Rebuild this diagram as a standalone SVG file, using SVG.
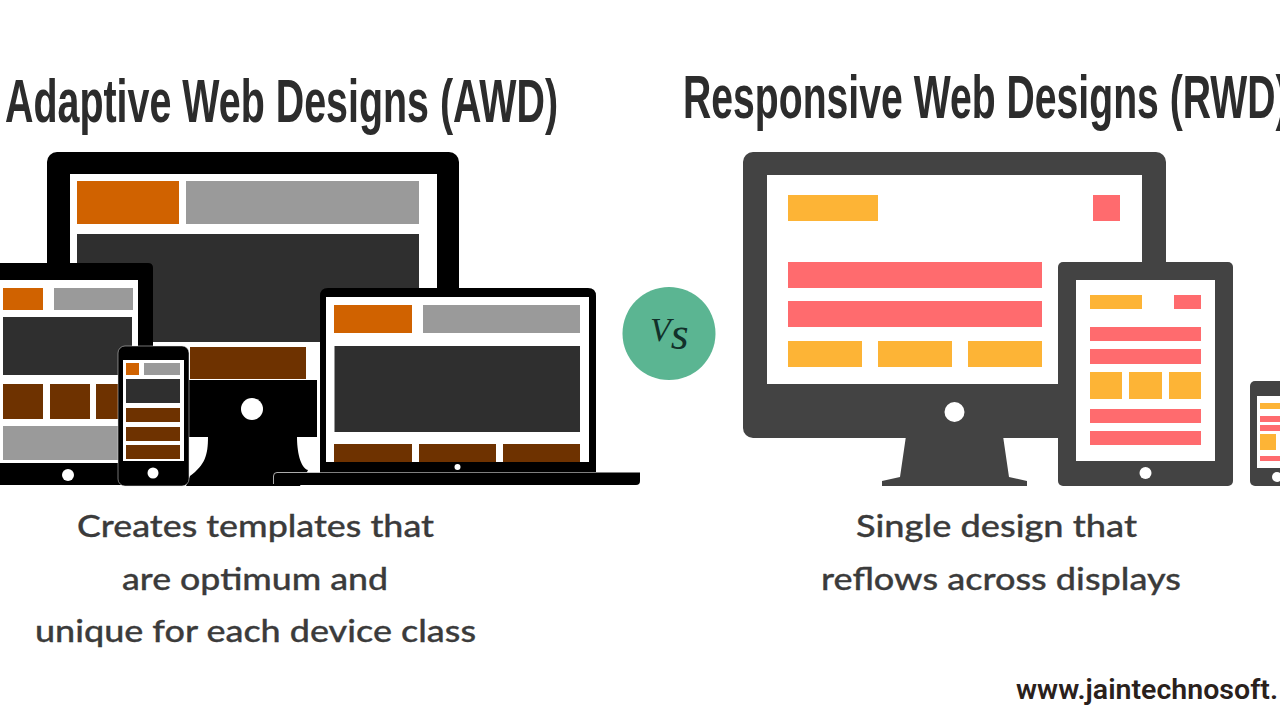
<svg xmlns="http://www.w3.org/2000/svg" width="1280" height="720" viewBox="0 0 1280 720">
<style>
.w{fill:#fff}.k{fill:#000}.o{fill:#d06200}.g{fill:#9a9a9a}.d{fill:#2f2f2f}.b{fill:#6e3200}
.s{fill:#434343}.y{fill:#fdb436}.r{fill:#ff6b6e}
.title{font-family:"Liberation Sans",Arial,sans-serif;font-weight:700;font-size:61px;fill:#2c2c2c}
.sub{font-family:"Lato","Open Sans",sans-serif;font-weight:500;font-size:30px;fill:#3b3b3b;stroke:#3b3b3b;stroke-width:.3px}
</style>
<rect width="1280" height="720" fill="#fff"/>
<g id="title-awd"><text class="title" transform="translate(5 122) scale(.646 1)">Adaptive Web Designs (AWD)</text></g>
<g id="title-rwd"><text class="title" transform="translate(683 118) scale(.642 1)">Responsive Web Designs (RWD)</text></g>

<g id="awd-monitor">
<rect class="k" x="47" y="152" width="412" height="150" rx="10"/>
<rect class="w" x="70" y="174" width="367" height="206"/>
<rect class="o" x="77" y="181" width="102" height="43"/>
<rect class="g" x="186" y="181" width="233" height="43"/>
<rect class="d" x="77" y="234" width="342" height="108"/>
<rect class="b" x="190" y="347" width="116" height="32"/>
<rect class="k" x="150" y="380" width="167" height="57"/>
<circle class="w" cx="252" cy="409" r="11"/>
<path class="k" d="M208 437C208 455 205 465 190 476L186 486H300L308 470C300 468 297 450 297 437Z"/>
</g>

<g id="awd-tablet">
<path class="k" d="M-5 263H148Q153 263 153 268V481Q153 485 148 485H-5Z"/>
<rect class="w" x="-5" y="280" width="143" height="183"/>
<rect class="o" x="3" y="288" width="40" height="22"/>
<rect class="g" x="54" y="288" width="79" height="22"/>
<rect class="d" x="3" y="317" width="129" height="58"/>
<rect class="b" x="3" y="384" width="40" height="35"/>
<rect class="b" x="50" y="384" width="40" height="35"/>
<rect class="b" x="96" y="384" width="30" height="35"/>
<rect class="g" x="3" y="426" width="120" height="34"/>
<circle class="w" cx="68" cy="475" r="6"/>
</g>

<g id="awd-phone">
<rect class="k" x="118" y="346" width="71" height="140" rx="7" stroke="#e4e4e4" stroke-width="0.5"/>
<rect class="w" x="123" y="360" width="61" height="101"/>
<rect class="o" x="126" y="363" width="13" height="12"/>
<rect class="g" x="144" y="363" width="36" height="12"/>
<rect class="d" x="126" y="379" width="54" height="24"/>
<rect class="b" x="126" y="408" width="54" height="14"/>
<rect class="b" x="126" y="427" width="54" height="14"/>
<rect class="b" x="126" y="445" width="54" height="14"/>
<circle class="w" cx="153" cy="473" r="5.5"/>
</g>

<g id="awd-laptop">
<path class="k" d="M320 472V296Q320 288 328 288H588Q596 288 596 296V472Z"/>
<rect class="w" x="326" y="297" width="263" height="166"/>
<rect class="o" x="334" y="305" width="78" height="28"/>
<rect class="g" x="423" y="305" width="157" height="28"/>
<rect class="d" x="334.500" y="346" width="245.500" height="86"/>
<rect class="b" x="334" y="444" width="78" height="18"/>
<rect class="b" x="419" y="444" width="77" height="18"/>
<rect class="b" x="503" y="444" width="77" height="18"/>
<rect class="k" x="320" y="462" width="276" height="10"/>
<circle class="w" cx="457.500" cy="467" r="3"/>
<path class="k" d="M273 476Q273 472.500 276 472.500H640V481Q640 485 636 485H278Q273 485 273 481Z"/>
<path d="M273.500 484V476Q273.500 472.500 277 472.500H320" fill="none" stroke="#d8d8d8" stroke-width="0.8"/>
</g>

<g id="vs-badge">
<circle cx="669" cy="333.500" r="46.500" fill="#5bb592"/>
<text x="650" y="341" font-family="'Liberation Serif',serif" font-style="italic" font-size="34" fill="#12302a">V<tspan dy="8" font-size="46">s</tspan></text>
</g>

<g id="rwd-monitor">
<rect class="s" x="743" y="152" width="423" height="286" rx="10"/>
<rect class="w" x="767" y="175" width="375" height="209"/>
<rect class="y" x="788" y="195" width="90" height="26"/>
<rect class="r" x="1093" y="195" width="27" height="26"/>
<rect class="r" x="788" y="262" width="254" height="26"/>
<rect class="r" x="788" y="301" width="254" height="26"/>
<rect class="y" x="788" y="341" width="74" height="26"/>
<rect class="y" x="878" y="341" width="74" height="26"/>
<rect class="y" x="968" y="341" width="74" height="26"/>
<circle class="w" cx="954.500" cy="412" r="10"/>
<path class="s" d="M906 436L900 477L882 481V486H1027V481L1009 477L1003 436Z"/>
</g>

<g id="rwd-tablet">
<rect class="s" x="1058" y="262" width="175" height="224" rx="5"/>
<rect class="w" x="1076" y="280" width="139" height="181"/>
<rect class="y" x="1090" y="295" width="52" height="14"/>
<rect class="r" x="1174" y="295" width="27" height="14"/>
<rect class="r" x="1090" y="327" width="111" height="14"/>
<rect class="r" x="1090" y="349" width="111" height="15"/>
<rect class="y" x="1090" y="372" width="32" height="27"/>
<rect class="y" x="1129" y="372" width="33" height="27"/>
<rect class="y" x="1169" y="372" width="32" height="27"/>
<rect class="r" x="1090" y="409" width="111" height="14"/>
<rect class="r" x="1090" y="431" width="111" height="14"/>
<circle class="w" cx="1145.500" cy="473" r="6"/>
</g>

<g id="rwd-phone">
<rect class="s" x="1250" y="381" width="50" height="105" rx="5"/>
<rect class="w" x="1257" y="396" width="30" height="72"/>
<rect class="y" x="1260" y="403" width="20" height="6"/>
<rect class="r" x="1260" y="416" width="20" height="6"/>
<rect class="r" x="1260" y="425" width="20" height="6"/>
<rect class="y" x="1260" y="434" width="16" height="16"/>
<rect class="r" x="1260" y="456" width="20" height="5"/>
<circle class="w" cx="1277" cy="477" r="5"/>
</g>

<g id="caption-awd">
<text class="sub" x="77" y="537" textLength="357" lengthAdjust="spacingAndGlyphs">Creates templates that</text>
<text class="sub" x="122" y="590" textLength="266" lengthAdjust="spacingAndGlyphs">are optimum and</text>
<text class="sub" x="35" y="642" textLength="441" lengthAdjust="spacingAndGlyphs">unique for each device class</text>
</g>
<g id="caption-rwd">
<text class="sub" x="856" y="537" textLength="281" lengthAdjust="spacingAndGlyphs">Single design that</text>
<text class="sub" x="821" y="590" textLength="360" lengthAdjust="spacingAndGlyphs">reflows across displays</text>
</g>
<g id="site-url"><text x="1016" y="699" font-family="Roboto,'Liberation Sans',sans-serif" font-weight="600" font-size="28" fill="#2a211c" textLength="262" lengthAdjust="spacingAndGlyphs">www.jaintechnosoft.</text></g>
</svg>
